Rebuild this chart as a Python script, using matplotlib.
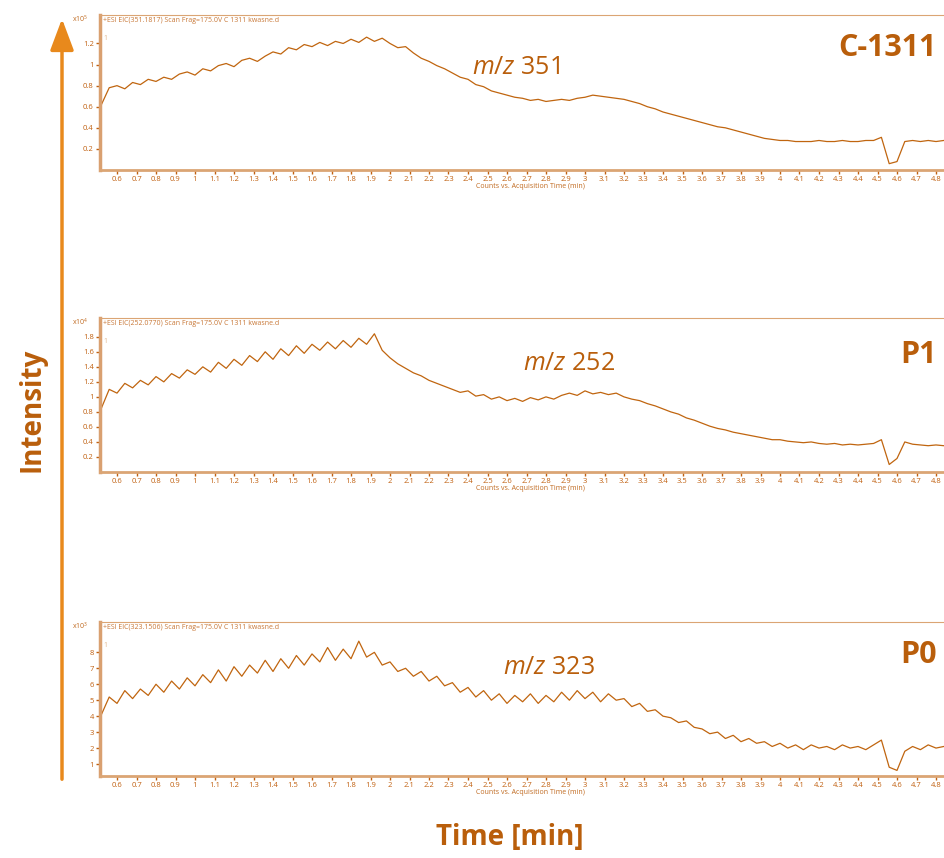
import numpy as np
import matplotlib
matplotlib.use("Agg")
import matplotlib.pyplot as plt
from matplotlib.patches import FancyArrowPatch

plt.rcParams['font.family'] = ['Open Sans', 'DejaVu Sans']
plt.rcParams['mathtext.fontset'] = 'custom'
plt.rcParams['mathtext.it'] = 'Open Sans:italic'
plt.rcParams['mathtext.rm'] = 'Open Sans'

# scan times (min), one point every 0.04 min
time_min = np.round(np.arange(0.52, 4.845, 0.04), 2)

# C-1311, m/z 351, counts x10^5
eic_351 = [0.62, 0.78, 0.80, 0.77, 0.83, 0.81, 0.86, 0.84, 0.88, 0.86,
           0.91, 0.93, 0.90, 0.96, 0.94, 0.99, 1.01, 0.98, 1.04, 1.06,
           1.03, 1.08, 1.12, 1.10, 1.16, 1.14, 1.19, 1.17, 1.21, 1.18,
           1.22, 1.20, 1.24, 1.21, 1.26, 1.22, 1.25, 1.20, 1.16, 1.17,
           1.11, 1.06, 1.03, 0.99, 0.96, 0.92, 0.88, 0.86, 0.81, 0.79,
           0.75, 0.73, 0.71, 0.69, 0.68, 0.66, 0.67, 0.65, 0.66, 0.67,
           0.66, 0.68, 0.69, 0.71, 0.70, 0.69, 0.68, 0.67, 0.65, 0.63,
           0.60, 0.58, 0.55, 0.53, 0.51, 0.49, 0.47, 0.45, 0.43, 0.41,
           0.40, 0.38, 0.36, 0.34, 0.32, 0.30, 0.29, 0.28, 0.28, 0.27,
           0.27, 0.27, 0.28, 0.27, 0.27, 0.28, 0.27, 0.27, 0.28, 0.28,
           0.31, 0.06, 0.08, 0.27, 0.28, 0.27, 0.28, 0.27, 0.28]

# P1, m/z 252, counts x10^4
eic_252 = [0.85, 1.10, 1.05, 1.18, 1.12, 1.22, 1.16, 1.27, 1.20, 1.31,
           1.25, 1.36, 1.30, 1.40, 1.33, 1.46, 1.38, 1.50, 1.42, 1.55,
           1.47, 1.60, 1.50, 1.64, 1.55, 1.68, 1.58, 1.70, 1.62, 1.73,
           1.64, 1.75, 1.66, 1.78, 1.70, 1.84, 1.62, 1.52, 1.44, 1.38,
           1.32, 1.28, 1.22, 1.18, 1.14, 1.10, 1.06, 1.08, 1.01, 1.03,
           0.97, 1.00, 0.95, 0.98, 0.94, 0.99, 0.96, 1.00, 0.97, 1.02,
           1.05, 1.02, 1.08, 1.04, 1.06, 1.03, 1.05, 1.00, 0.97, 0.95,
           0.91, 0.88, 0.84, 0.80, 0.77, 0.72, 0.69, 0.65, 0.61, 0.58,
           0.56, 0.53, 0.51, 0.49, 0.47, 0.45, 0.43, 0.43, 0.41, 0.40,
           0.39, 0.40, 0.38, 0.37, 0.38, 0.36, 0.37, 0.36, 0.37, 0.38,
           0.43, 0.10, 0.18, 0.40, 0.37, 0.36, 0.35, 0.36, 0.35]

# P0, m/z 323, counts x10^3
eic_323 = [4.1, 5.2, 4.8, 5.6, 5.1, 5.7, 5.3, 6.0, 5.5, 6.2,
           5.7, 6.4, 5.9, 6.6, 6.1, 6.9, 6.2, 7.1, 6.5, 7.2,
           6.7, 7.5, 6.8, 7.6, 7.0, 7.8, 7.2, 7.9, 7.4, 8.3,
           7.5, 8.2, 7.6, 8.7, 7.7, 8.0, 7.2, 7.4, 6.8, 7.0,
           6.5, 6.8, 6.2, 6.5, 5.9, 6.1, 5.5, 5.8, 5.2, 5.6,
           5.0, 5.4, 4.8, 5.3, 4.9, 5.4, 4.8, 5.3, 4.9, 5.5,
           5.0, 5.6, 5.1, 5.5, 4.9, 5.4, 5.0, 5.1, 4.6, 4.8,
           4.3, 4.4, 4.0, 3.9, 3.6, 3.7, 3.3, 3.2, 2.9, 3.0,
           2.6, 2.8, 2.4, 2.6, 2.3, 2.4, 2.1, 2.3, 2.0, 2.2,
           1.9, 2.2, 2.0, 2.1, 1.9, 2.2, 2.0, 2.1, 1.9, 2.2,
           2.5, 0.8, 0.6, 1.8, 2.1, 1.9, 2.2, 2.0, 2.1]

compounds = ['C-1311', 'P1', 'P0']
mz_labels = ['351', '252', '323']
headers = ['+ESI EIC(351.1817) Scan Frag=175.0V C 1311 kwasne.d',
           '+ESI EIC(252.0770) Scan Frag=175.0V C 1311 kwasne.d',
           '+ESI EIC(323.1506) Scan Frag=175.0V C 1311 kwasne.d']
exponents = ['5', '4', '3']
y_ticks = [[0.2, 0.4, 0.6, 0.8, 1, 1.2],
           [0.2, 0.4, 0.6, 0.8, 1, 1.2, 1.4, 1.6, 1.8],
           [1, 2, 3, 4, 5, 6, 7, 8]]
y_lims = [(0, 1.47), (0, 2.05), (0.25, 9.9)]
traces = [eic_351, eic_252, eic_323]

line_col = '#C0650F'
frame_col = '#DBA574'
text_col = '#B95E0B'

W, H = 944, 858
fig = plt.figure(figsize=(W / 100, H / 100), dpi=100)

# panel placement in pixels: (top, bottom)
panels = [(15, 170), (318, 472), (622, 776)]
left_px, right_px = 100, 960
t_left, t_right = left_px / 195, right_px / 195

for i, (top, bot) in enumerate(panels):
    ax = fig.add_axes([left_px / W, (H - bot) / H,
                       (right_px - left_px) / W, (bot - top) / H])
    ax.plot(time_min, traces[i], color=line_col, lw=0.9)
    ax.set_xlim(t_left, t_right)
    ax.set_ylim(*y_lims[i])

    ax.spines['right'].set_visible(False)
    ax.spines['top'].set_color(frame_col)
    ax.spines['top'].set_linewidth(0.8)
    ax.spines['bottom'].set_color(frame_col)
    ax.spines['bottom'].set_linewidth(2.0)
    ax.spines['left'].set_color('#D9A070')
    ax.spines['left'].set_linewidth(2.5)

    xt = np.round(np.arange(0.6, 4.85, 0.1), 1)
    ax.set_xticks(xt)
    ax.set_xticklabels(['%g' % v for v in xt])
    ax.set_yticks(y_ticks[i])
    ax.set_yticklabels(['%g' % v for v in y_ticks[i]])
    ax.tick_params(axis='both', direction='out', length=3, width=1,
                   color='#C06010', labelsize=5.5, labelcolor='#C06010', pad=1.5)

    ax.text(0.004, 0.985, headers[i], transform=ax.transAxes, fontsize=5,
            color='#C87838', va='top', ha='left')
    ax.text(0.004, 0.87, '1', transform=ax.transAxes, fontsize=5,
            color='#E0B890', va='top', ha='left')
    fig.text(72 / W, (H - top - 4) / H, 'x10$^{%s}$' % exponents[i], fontsize=5,
             color='#C06A20', ha='left', va='center')
    fig.text(530 / W, (H - bot - 17) / H, 'Counts vs. Acquisition Time (min)',
             fontsize=5, color='#C06A20', ha='center', va='center')

# compound names and m/z labels
name_y = [48, 355, 655]
mz_pos = [(472, 68), (523, 363), (503, 668)]
for i in range(3):
    fig.text(937 / W, (H - name_y[i]) / H, compounds[i], fontsize=22,
             fontweight='bold', color=text_col, ha='right', va='center')
    fig.text(mz_pos[i][0] / W, (H - mz_pos[i][1]) / H, r'$m/z$ ' + mz_labels[i],
             fontsize=18, color=text_col, ha='left', va='center')

# intensity arrow
arrow = FancyArrowPatch((62 / W, (H - 782) / H), (62 / W, (H - 16) / H),
                        transform=fig.transFigure,
                        arrowstyle='-|>,head_length=0.4,head_width=0.15',
                        mutation_scale=48, lw=2.5, color='#E8891C')
fig.patches.append(arrow)

fig.text(32 / W, (H - 410) / H, 'Intensity', rotation=90, fontsize=20,
         fontweight='bold', color=text_col, ha='center', va='center')
fig.text(510 / W, (H - 838) / H, 'Time [min]', fontsize=20,
         fontweight='bold', color=text_col, ha='center', va='center')

fig.savefig('out.png', dpi=100)
